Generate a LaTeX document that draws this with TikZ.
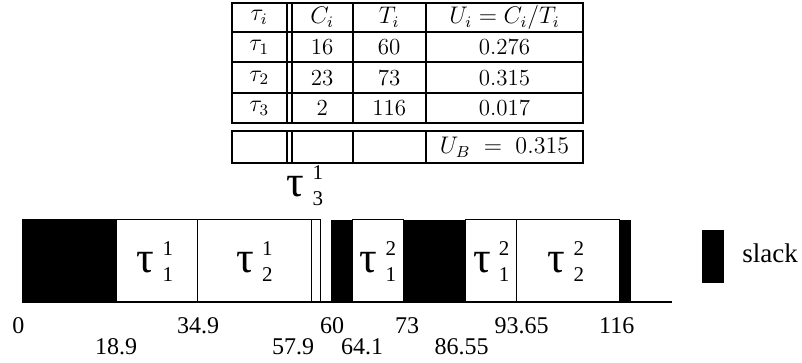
\documentclass[tikz,border=0pt]{standalone}
\usepackage{fontspec}
\newfontfamily\timesfont{Liberation Serif}
\usetikzlibrary{positioning}

% task instance label: tau with superscript (instance) and subscript (task)
\newcommand{\job}[2]{{\timesfont\fontsize{22}{22}\selectfont τ}\kern4pt%
  {\timesfont\fontsize{10.5}{10.5}\selectfont\rlap{\raisebox{8.5pt}{#2}}\raisebox{-4.5pt}{#1}}}

\begin{document}
\begin{tikzpicture}[
    x=0.5pt, y=-0.5pt,
    tabrule/.style={line width=1pt},
    cell/.style={font=\fontsize{11.5}{12}\selectfont, inner sep=0pt},
    task/.style={draw, fill=white, line width=0.5pt},
    slackbox/.style={fill=black},
    tick/.style={font=\timesfont\fontsize{12}{12}\selectfont, inner sep=0pt},
  ]
  \useasboundingbox (0,0) rectangle (802,363);

  % table
  \draw[tabrule] (231.7,2.7) rectangle (583.3,123.3);
  \draw[tabrule] (231.7,131) rectangle (583.3,163.3);
  \foreach \y in {32.3, 62.3, 93.3}
    \draw[tabrule] (231.7,\y) -- (583.3,\y);
  \foreach \x in {286.7, 291.7, 352.7, 425.7} {
    \draw[tabrule] (\x,2.7) -- (\x,123.3);
    \draw[tabrule] (\x,131) -- (\x,163.3);
  }

  \node[cell] (h0) at (259.2,17.5) {$\tau_i$};
  \node[cell] (h1) at (322.2,17.5) {$C_i$};
  \node[cell] (h2) at (389.2,17.5) {$T_i$};
  \node[cell] (h3) at (504.5,17.5) {$U_i = C_i/T_i$};
  \foreach \r/\y/\c/\t/\u in {1/47.3/16/60/0.276, 2/77.8/23/73/0.315, 3/108.3/2/116/0.017} {
    \node[cell] (task\r) at (259.2,\y) {$\tau_\r$};
    \node[cell] (c\r) at (322.2,\y) {\c};
    \node[cell] (t\r) at (389.2,\y) {\t};
    \node[cell] (u\r) at (504.5,\y) {\u};
  }
  \node[cell] (ub) at (504.5,147.2) {$U_B \;=\; 0.315$};

  % schedule
  \foreach \a/\b in {116/197.7, 197.7/311.5, 311.5/320.7, 352.7/403.3, 465.7/516.7, 516.7/619.3}
    \draw[task] (\a,220) rectangle (\b,302);
  \foreach \a/\b in {22/116, 331/352.7, 403.3/465.7, 619.3/631}
    \fill[slackbox] (\a,220) rectangle (\b,302.5);
  \draw[line width=0.5pt] (22,220) -- (320.7,220);
  \draw[line width=0.8pt] (22,302) -- (671.7,302);

  \node[inner sep=0pt] (j11) at (155,262) {\job{1}{1}};
  \node[inner sep=0pt] (j21) at (254.6,262) {\job{2}{1}};
  \node[inner sep=0pt] (j31) at (305,186) {\job{3}{1}};
  \node[inner sep=0pt] (j12) at (378,262) {\job{1}{2}};
  \node[inner sep=0pt] (j12b) at (491.2,262) {\job{1}{2}};
  \node[inner sep=0pt] (j22) at (566,262) {\job{2}{2}};

  % time marks
  \foreach \n/\x/\lab in {m0/18.3/0, m349/198/34.9, m60/332/60, m73/407/73, m9365/521.7/93.65, m116/616.7/116}
    \node[tick] (\n) at (\x,325.5) {\lab};
  \foreach \n/\x/\lab in {m189/116/18.9, m579/293/57.9, m641/362/64.1, m8655/461.7/86.55}
    \node[tick] (\n) at (\x,347) {\lab};

  % legend
  \fill[slackbox] (701.7,230) rectangle (724,282.7);
  \node[inner sep=0pt, anchor=west, font=\timesfont\fontsize{13.5}{14}\selectfont]
    (slack) at (742,253) {slack};
\end{tikzpicture}
\end{document}
